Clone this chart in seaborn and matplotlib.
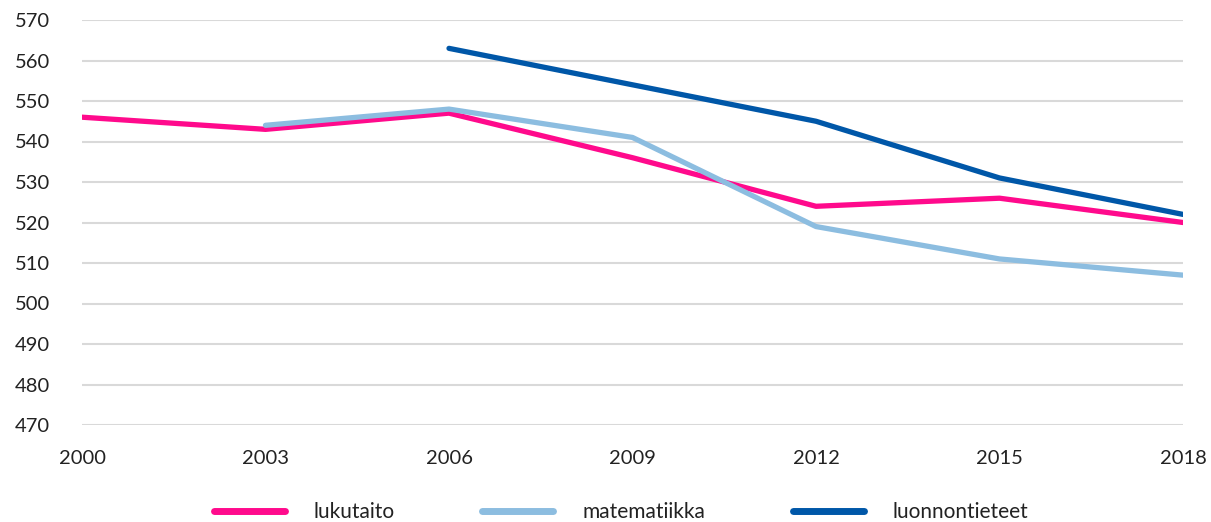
import matplotlib
matplotlib.use("Agg")
import matplotlib.pyplot as plt
import seaborn as sns
import pandas as pd
import numpy as np

# PISA scores, Finland
years = [2000, 2003, 2006, 2009, 2012, 2015, 2018]
lukutaito = [546, 543, 547, 536, 524, 526, 520]
matematiikka = [np.nan, 544, 548, 541, 519, 511, 507]
luonnontieteet = [np.nan, np.nan, 563, 554, 545, 531, 522]

series = {'lukutaito': lukutaito, 'matematiikka': matematiikka,
          'luonnontieteet': luonnontieteet}
colors = {'lukutaito': '#FF0A8C', 'matematiikka': '#8CBDE0',
          'luonnontieteet': '#0057A8'}

df = pd.DataFrame(series, index=years).reset_index(names='vuosi')
long = df.melt(id_vars='vuosi', var_name='aine', value_name='pisteet').dropna()

sns.set_style('white')
plt.rcParams['font.family'] = ['Lato', 'DejaVu Sans']

fig = plt.figure(figsize=(12.11, 5.22), dpi=100)
ax = fig.add_axes([82 / 1211, 1 - 425 / 522, (1183 - 82) / 1211, (425 - 20) / 522])

sns.lineplot(data=long, x='vuosi', y='pisteet', hue='aine', palette=colors,
             hue_order=list(series), linewidth=3.8, ax=ax, legend=False,
             solid_capstyle='round')

ax.set_xlim(2000, 2018)
ax.set_ylim(470, 570)
ax.set_xticks(years)
ax.set_yticks(range(470, 571, 10))
ax.yaxis.grid(True, color='#D9D9D9', linewidth=1.5)
ax.set_axisbelow(True)
for s in ax.spines.values():
    s.set_visible(False)
ax.tick_params(axis='y', length=0, pad=23, labelsize=14.5, labelcolor='#222222')
ax.tick_params(axis='x', length=0, pad=18, labelsize=14.5, labelcolor='#222222')
ax.set_xlabel('')
ax.set_ylabel('')

handles = [plt.Line2D([], [], color=colors[k], linewidth=5, solid_capstyle='round')
           for k in series]
fig.legend(handles, list(series), loc='center', bbox_to_anchor=(0.513, 1 - 512 / 522),
           ncol=3, frameon=False, fontsize=15, handlelength=3.4, handletextpad=1.4,
           columnspacing=4.2, labelcolor='#222222')

fig.savefig('out.png', dpi=100)
